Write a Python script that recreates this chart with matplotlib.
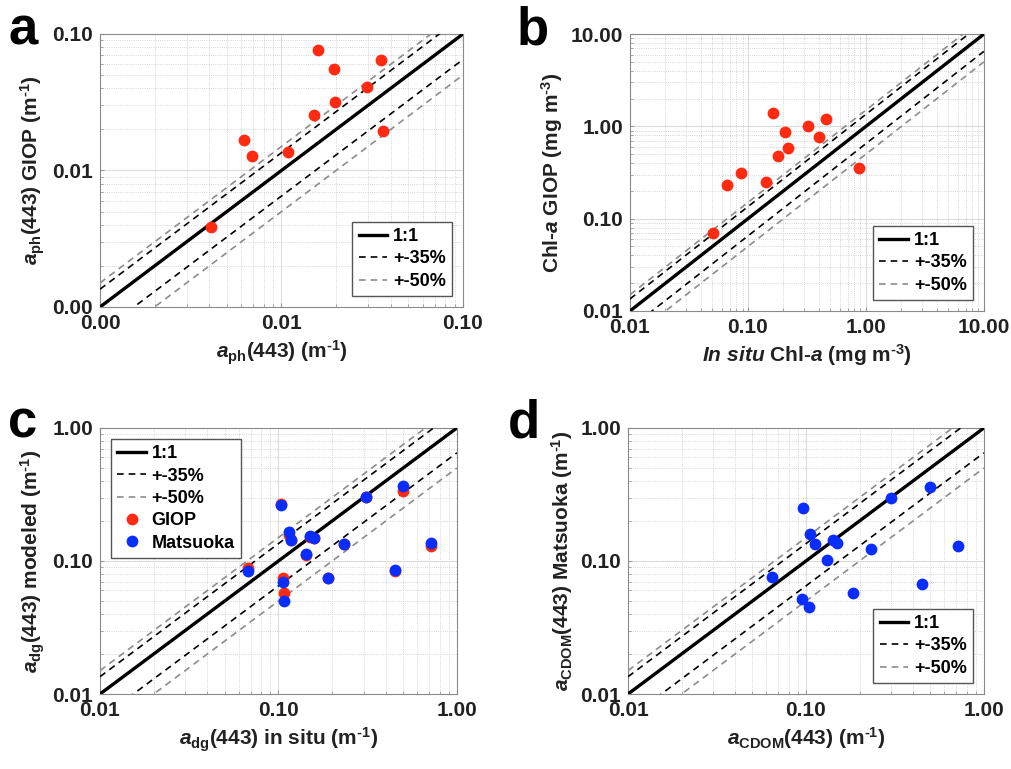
import matplotlib
matplotlib.use("Agg")
import matplotlib.pyplot as plt
import numpy as np
from matplotlib.ticker import FormatStrFormatter, LogLocator, NullFormatter

plt.rcParams['font.family'] = ['Liberation Sans', 'DejaVu Sans']
plt.rcParams['font.weight'] = 'bold'
plt.rcParams['mathtext.fontset'] = 'custom'
plt.rcParams['mathtext.rm'] = 'Liberation Sans:bold'
plt.rcParams['mathtext.bf'] = 'Liberation Sans:bold'
plt.rcParams['mathtext.it'] = 'Liberation Sans:italic:bold'

# panel a: a_ph(443) in situ vs GIOP
aph_insitu = [0.0041, 0.00625, 0.00685, 0.0108, 0.0151, 0.0159, 0.0194, 0.0198, 0.0295, 0.0353, 0.0362]
aph_giop = [0.00383, 0.0168, 0.0127, 0.0137, 0.0255, 0.0764, 0.0555, 0.0318, 0.0409, 0.0646, 0.0194]

# panel b: chl-a in situ vs GIOP
chl_insitu = [0.0508, 0.0659, 0.0867, 0.142, 0.164, 0.181, 0.207, 0.220, 0.321, 0.400, 0.458, 0.879]
chl_giop = [0.0703, 0.234, 0.310, 0.252, 1.41, 0.473, 0.873, 0.591, 1.01, 0.765, 1.19, 0.357]

# panel c: a_dg(443) in situ vs modeled
adg_insitu = [0.0679, 0.1035, 0.1057, 0.1076, 0.1153, 0.1178, 0.1429, 0.1507, 0.159, 0.1905, 0.2333, 0.309, 0.451, 0.502, 0.714]
adg_giop = [0.0889, 0.270, 0.0739, 0.057, 0.156, 0.143, 0.111, 0.152, 0.149, 0.075, 0.1338, 0.3015, 0.084, 0.334, 0.130]
adg_matsuoka = [0.0839, 0.2656, 0.0698, 0.0502, 0.1656, 0.1433, 0.1125, 0.1545, 0.149, 0.0739, 0.1338, 0.3015, 0.0853, 0.3648, 0.1377]

# panel d: a_CDOM(443) in situ vs Matsuoka
acdom_insitu = [0.0641, 0.0946, 0.0966, 0.1045, 0.1052, 0.1127, 0.1312, 0.1413, 0.150, 0.1845, 0.2307, 0.299, 0.447, 0.498, 0.718]
acdom_matsuoka = [0.076, 0.0517, 0.252, 0.0453, 0.159, 0.1353, 0.1014, 0.1433, 0.1377, 0.057, 0.1233, 0.2998, 0.0666, 0.3605, 0.130]

red = '#ff2a10'
blue = '#0a2dff'
inv_m = r'(m$^{\text{-1}}$)'


def setup_axes(ax, lo, hi):
    ax.set_xscale('log')
    ax.set_yscale('log')
    ax.set_xlim(lo, hi)
    ax.set_ylim(lo, hi)
    x = np.array([lo, hi])
    ax.plot(x, x, color='black', lw=2.4, label='1:1', zorder=3)
    ax.plot(x, x * 1.35, color='black', lw=1.2, ls=(0, (4, 3)), label='+-35%', zorder=3)
    ax.plot(x, x * 0.65, color='black', lw=1.2, ls=(0, (4, 3)), zorder=3)
    ax.plot(x, x * 1.5, color='#8c8c8c', lw=1.2, ls=(0, (4, 3)), label='+-50%', zorder=3)
    ax.plot(x, x * 0.5, color='#8c8c8c', lw=1.2, ls=(0, (4, 3)), zorder=3)
    for axis in (ax.xaxis, ax.yaxis):
        axis.set_major_locator(LogLocator(base=10, numticks=10))
        axis.set_major_formatter(FormatStrFormatter('%.2f'))
        axis.set_minor_locator(LogLocator(base=10, subs=np.arange(2, 10), numticks=20))
        axis.set_minor_formatter(NullFormatter())
    ax.grid(True, which='major', color='#d9d9d9', lw=0.7, ls='-')
    ax.grid(True, which='minor', color='#c8c8c8', lw=0.6, ls=':')
    ax.set_axisbelow(True)
    ax.tick_params(which='both', direction='in', length=3, color='#999999', labelsize=15, pad=5, labelcolor='#222222')
    ax.tick_params(which='minor', length=2)
    for s in ax.spines.values():
        s.set_color('#8a8a8a')
        s.set_linewidth(0.8)


def add_legend(ax, loc):
    ax.legend(loc=loc, fontsize=13, handlelength=1.6, fancybox=False, edgecolor='#555555',
              framealpha=1, borderaxespad=0.6, labelspacing=0.3, handletextpad=0.3, borderpad=0.35)


fig = plt.figure(figsize=(10.11, 7.69), dpi=100)
lab = dict(fontsize=15, fontweight='bold', color='#222222')

# a
ax = fig.add_axes([0.0989, 0.6008, 0.359, 0.355])
setup_axes(ax, 0.001, 0.1)
ax.plot(aph_insitu, aph_giop, 'o', color=red, ms=8.5, mec='none', zorder=4)
ax.set_xlabel(r'$a_{\rm ph}$(443) ' + inv_m, **lab)
ax.set_ylabel(r'$a_{\rm ph}$(443) GIOP ' + inv_m, **lab)
add_legend(ax, 'lower right')

# b
ax = fig.add_axes([0.6231, 0.5956, 0.350, 0.360])
setup_axes(ax, 0.01, 10)
ax.plot(chl_insitu, chl_giop, 'o', color=red, ms=8.5, mec='none', zorder=4)
ax.set_xlabel(r'$In\ situ$ Chl-$a$ (mg m$^{\text{-3}}$)', **lab)
ax.set_ylabel(r'Chl-$a$ GIOP (mg m$^{\text{-3}}$)', **lab)
add_legend(ax, 'lower right')

# c
ax = fig.add_axes([0.0989, 0.0975, 0.353, 0.346])
setup_axes(ax, 0.01, 1)
ax.plot(adg_insitu, adg_giop, 'o', color=red, ms=8.5, mec='none', zorder=4, label='GIOP')
ax.plot(adg_insitu, adg_matsuoka, 'o', color=blue, ms=8.5, mec='none', zorder=5, label='Matsuoka')
ax.set_xlabel(r'$a_{\rm dg}$(443) in situ ' + inv_m, **lab)
ax.set_ylabel(r'$a_{\rm dg}$(443) modeled ' + inv_m, **lab)
add_legend(ax, 'upper left')

# d
ax = fig.add_axes([0.6212, 0.0975, 0.352, 0.346])
setup_axes(ax, 0.01, 1)
ax.plot(acdom_insitu, acdom_matsuoka, 'o', color=blue, ms=8.5, mec='none', zorder=5)
ax.set_xlabel(r'$a_{\rm CDOM}$(443) ' + inv_m, **lab)
ax.set_ylabel(r'$a_{\rm CDOM}$(443) Matsuoka ' + inv_m, **lab)
add_legend(ax, 'lower right')

# panel letters
fig.text(0.008, 0.942, 'a', fontsize=38, fontweight='bold')
fig.text(0.511, 0.942, 'b', fontsize=38, fontweight='bold')
fig.text(0.008, 0.431, 'c', fontsize=38, fontweight='bold')
fig.text(0.502, 0.431, 'd', fontsize=38, fontweight='bold')

fig.savefig('out.png', dpi=100)
